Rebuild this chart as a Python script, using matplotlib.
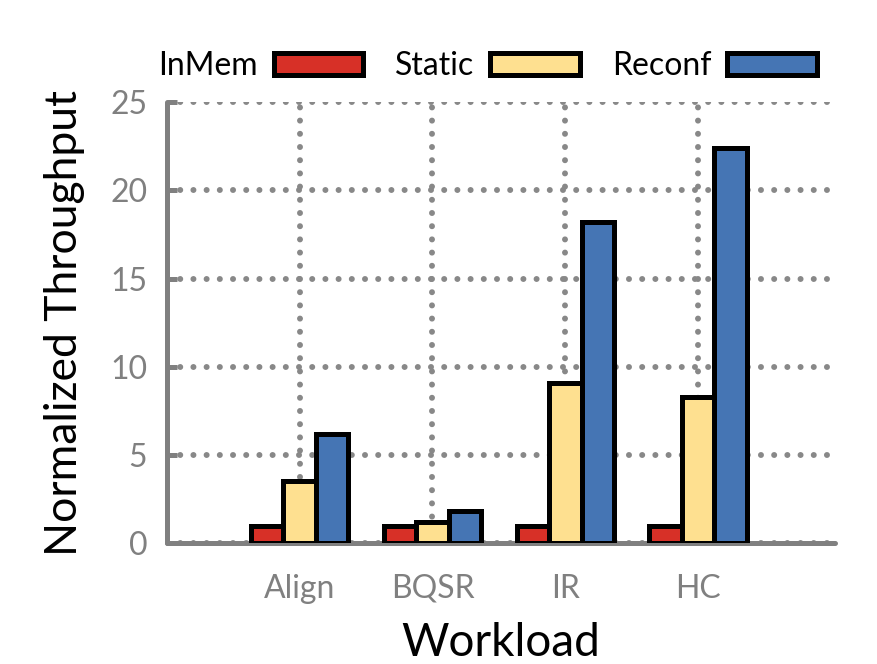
import numpy as np
import matplotlib.pyplot as plt

plt.rcParams['font.family'] = ['Lato', 'DejaVu Sans']

# Normalized throughput per workload
workloads = ['Align', 'BQSR', 'IR', 'HC']
inmem = [1.0, 1.0, 1.0, 1.0]
static = [3.5, 1.2, 9.1, 8.3]
reconf = [6.2, 1.8, 18.2, 22.4]

series_names = ['InMem', 'Static', 'Reconf']
colors = ['#d73027', '#fee090', '#4575b4']

fig = plt.figure(figsize=(8.78, 6.64), dpi=100)
ax = fig.add_axes([0.19, 0.182, 0.761, 0.664])

x = np.arange(len(workloads))
w = 0.245
grey = '#808080'

for i, (vals, name, c) in enumerate(zip([inmem, static, reconf], series_names, colors)):
    ax.bar(x + (i - 1) * w, vals, w, color=c, edgecolor='black',
           linewidth=3.6, label=name, zorder=3)

ax.set_ylim(0, 25)
ax.set_xlim(-1.0, 4.03)
ax.set_yticks([0, 5, 10, 15, 20, 25])
ax.set_xticks(x)
ax.set_xticklabels(workloads)

# dotted grid
ax.grid(True, color='#888888', linestyle=(0, (0.01, 2.2)), linewidth=4.3,
        zorder=0)
for gl in ax.get_xgridlines() + ax.get_ygridlines():
    gl.set_dash_capstyle('round')

for s in ['top', 'right']:
    ax.spines[s].set_visible(False)
for s in ['left', 'bottom']:
    ax.spines[s].set_color(grey)
    ax.spines[s].set_linewidth(3.6)
    ax.spines[s].set_capstyle('round')

ax.tick_params(axis='y', direction='in', length=7, width=3.6, color=grey,
               labelcolor=grey, labelsize=23, pad=14)
ax.tick_params(axis='x', length=0, labelcolor=grey, labelsize=23, pad=22)

ax.set_ylabel('Normalized Throughput', fontsize=32, labelpad=18)
ax.set_xlabel('Workload', fontsize=33, labelpad=13)

leg = ax.legend(loc='lower center', bbox_to_anchor=(0.48, 1.0), ncol=3,
                frameon=False, fontsize=23, markerfirst=False,
                handlelength=2.8, handleheight=0.7, handletextpad=0.5,
                columnspacing=1.0, borderaxespad=0.25)

fig.savefig('out.png', dpi=100)
